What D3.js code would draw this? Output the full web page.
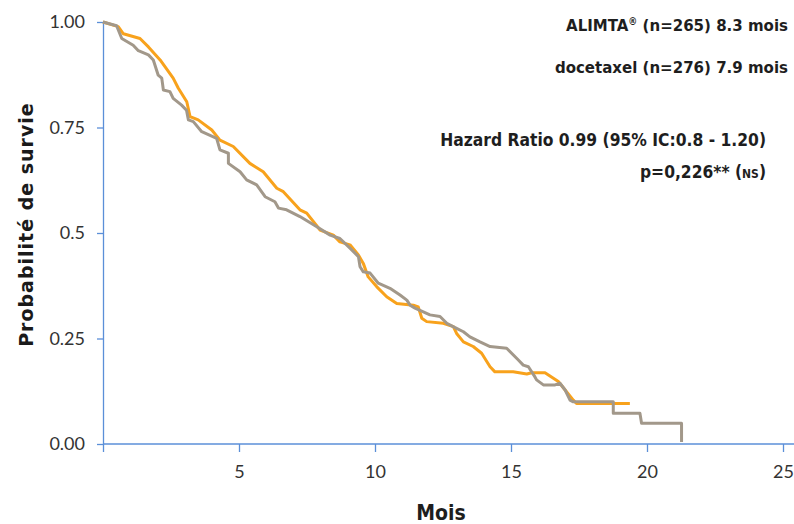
<html>
<head>
<meta charset="utf-8">
<script src="https://d3js.org/d3.v7.min.js"></script>
<style>
body {
  margin: 0;
  background: #fff;
}
svg {
  display: block;
}
.axis path, .axis line {
  stroke: #5b8fd8;
  stroke-width: 1.3;
  fill: none;
}
.axis text {
  font-family: Lato, "Open Sans", sans-serif;
  font-size: 18px;
  fill: #333;
}
.note {
  font-family: "DejaVu Sans Condensed", "Liberation Sans Narrow", sans-serif;
  font-weight: bold;
  font-size: 16.7px;
  fill: #1e1e1e;
}
</style>
</head>
<body>
<svg width="794" height="524"></svg>
<script>

// axis ticks
var xTicks = [0, 5, 10, 15, 20, 25];
var yTicks = [0, 0.25, 0.5, 0.75, 1];
var yTickLabels = ["0.00", "0.25", "0.5", "0.75", "1.00"];

// ALIMTA (orange) - months / survival probability
var alimtaMonths = [0, 0.56, 0.75, 1.36, 1.67, 2.10, 2.58, 2.77, 3.08, 3.20, 3.50, 4.00, 4.30, 4.79, 5.40, 5.89, 6.39, 6.63, 7.24, 7.49, 7.98, 8.47, 8.71, 9.08, 9.39, 9.57, 9.75, 10.06, 10.43, 10.80, 11.41, 11.59, 11.72, 11.90, 12.51, 12.88, 13.00, 13.25, 13.61, 13.92, 14.23, 14.41, 15.08, 15.58, 15.76, 16.25, 16.74, 16.99, 17.29, 17.41, 19.37];
var alimtaSurv = [1.0, 0.989, 0.972, 0.961, 0.941, 0.910, 0.867, 0.843, 0.811, 0.776, 0.768, 0.744, 0.720, 0.705, 0.665, 0.645, 0.606, 0.598, 0.555, 0.547, 0.507, 0.495, 0.479, 0.472, 0.448, 0.428, 0.396, 0.373, 0.349, 0.333, 0.329, 0.325, 0.298, 0.290, 0.286, 0.278, 0.262, 0.242, 0.231, 0.215, 0.183, 0.171, 0.171, 0.166, 0.169, 0.169, 0.148, 0.128, 0.104, 0.096, 0.096];

// docetaxel (grey)
var doceMonths = [0, 0.50, 0.69, 1.11, 1.30, 1.67, 1.85, 2.03, 2.16, 2.22, 2.46, 2.58, 2.89, 3.07, 3.14, 3.32, 3.63, 4.18, 4.30, 4.61, 4.61, 5.04, 5.28, 5.65, 5.96, 6.32, 6.45, 6.75, 7.24, 7.86, 8.35, 8.71, 9.08, 9.39, 9.45, 9.57, 9.82, 10.12, 10.55, 10.92, 11.17, 11.29, 11.47, 12.02, 12.39, 12.64, 13.00, 13.25, 13.49, 13.86, 14.23, 14.84, 15.27, 15.45, 15.64, 15.88, 15.94, 16.19, 16.62, 16.80, 16.99, 17.17, 17.29, 18.76, 18.76, 19.74, 19.80, 21.27, 21.27];
var doceSurv = [1.0, 0.991, 0.961, 0.945, 0.932, 0.922, 0.910, 0.874, 0.867, 0.839, 0.835, 0.819, 0.803, 0.791, 0.768, 0.764, 0.740, 0.724, 0.697, 0.689, 0.665, 0.645, 0.626, 0.614, 0.586, 0.574, 0.559, 0.555, 0.539, 0.515, 0.495, 0.487, 0.464, 0.444, 0.420, 0.408, 0.405, 0.381, 0.369, 0.353, 0.341, 0.329, 0.322, 0.306, 0.302, 0.286, 0.274, 0.266, 0.254, 0.242, 0.231, 0.227, 0.199, 0.187, 0.183, 0.159, 0.152, 0.140, 0.140, 0.144, 0.128, 0.104, 0.100, 0.100, 0.073, 0.073, 0.049, 0.049, 0.005];

var svg = d3.select("svg"),
    width = +svg.attr("width"),
    height = +svg.attr("height");

var x = d3.scaleLinear().domain([0, 25]).range([103, 783]);
var y = d3.scaleLinear().domain([0, 1]).range([444, 22]);

// x axis
var gx = svg.append("g")
    .attr("class", "axis")
    .attr("transform", "translate(0," + y(0) + ")")
    .call(d3.axisBottom(x)
        .tickValues(xTicks)
        .tickSize(8)
        .tickSizeOuter(0)
        .tickPadding(13)
        .tickFormat(d => d === 0 ? "" : d));
gx.select(".domain").remove();
gx.append("line")
    .attr("x1", x(0)).attr("x2", width)
    .attr("stroke", "#5b8fd8").attr("stroke-width", 1.3);

// y axis
var gy = svg.append("g")
    .attr("class", "axis")
    .attr("transform", "translate(" + x(0) + ",0)")
    .call(d3.axisLeft(y)
        .tickValues(yTicks)
        .tickSize(6)
        .tickSizeOuter(0)
        .tickPadding(12)
        .tickFormat((d, i) => yTickLabels[i]));

// curves
var line = d3.line()
    .x(d => x(d[0]))
    .y(d => y(d[1]));

var series = [
  {months: alimtaMonths, surv: alimtaSurv, color: "#f8a21c"},
  {months: doceMonths, surv: doceSurv, color: "#a2988a"}
];

series.forEach(function(s) {
  svg.append("path")
      .datum(s.months.map((m, i) => [m, s.surv[i]]))
      .attr("fill", "none")
      .attr("stroke", s.color)
      .attr("stroke-width", 3)
      .attr("stroke-linejoin", "round")
      .attr("d", line);
});

// axis titles
svg.append("text")
    .attr("transform", "translate(33," + y(0.52) + ") rotate(-90)")
    .attr("text-anchor", "middle")
    .style("font-family", "'DejaVu Sans', sans-serif")
    .style("font-weight", "bold")
    .style("font-size", "19px")
    .style("letter-spacing", "1px")
    .style("fill", "#1a1a1a")
    .text("Probabilité de survie");

svg.append("text")
    .attr("x", 441)
    .attr("y", 520)
    .attr("text-anchor", "middle")
    .attr("class", "note")
    .style("font-size", "21px")
    .text("Mois");

// annotations
svg.append("text").attr("class", "note")
    .attr("x", 788).attr("y", 31).attr("text-anchor", "end")
    .html("ALIMTA<tspan dy='-6' font-size='10px'>®</tspan><tspan dy='6'> (n=265) 8.3 mois</tspan>");

svg.append("text").attr("class", "note")
    .attr("x", 788).attr("y", 73).attr("text-anchor", "end")
    .text("docetaxel (n=276) 7.9 mois");

svg.append("text").attr("class", "note")
    .attr("x", 766).attr("y", 146).attr("text-anchor", "end")
    .style("font-size", "17.3px")
    .text("Hazard Ratio 0.99 (95% IC:0.8 - 1.20)");

svg.append("text").attr("class", "note")
    .attr("x", 766).attr("y", 178).attr("text-anchor", "end")
    .style("font-size", "17.3px")
    .html("p=0,226** (<tspan font-size='12px'>NS</tspan>)");

</script>
</body>
</html>
